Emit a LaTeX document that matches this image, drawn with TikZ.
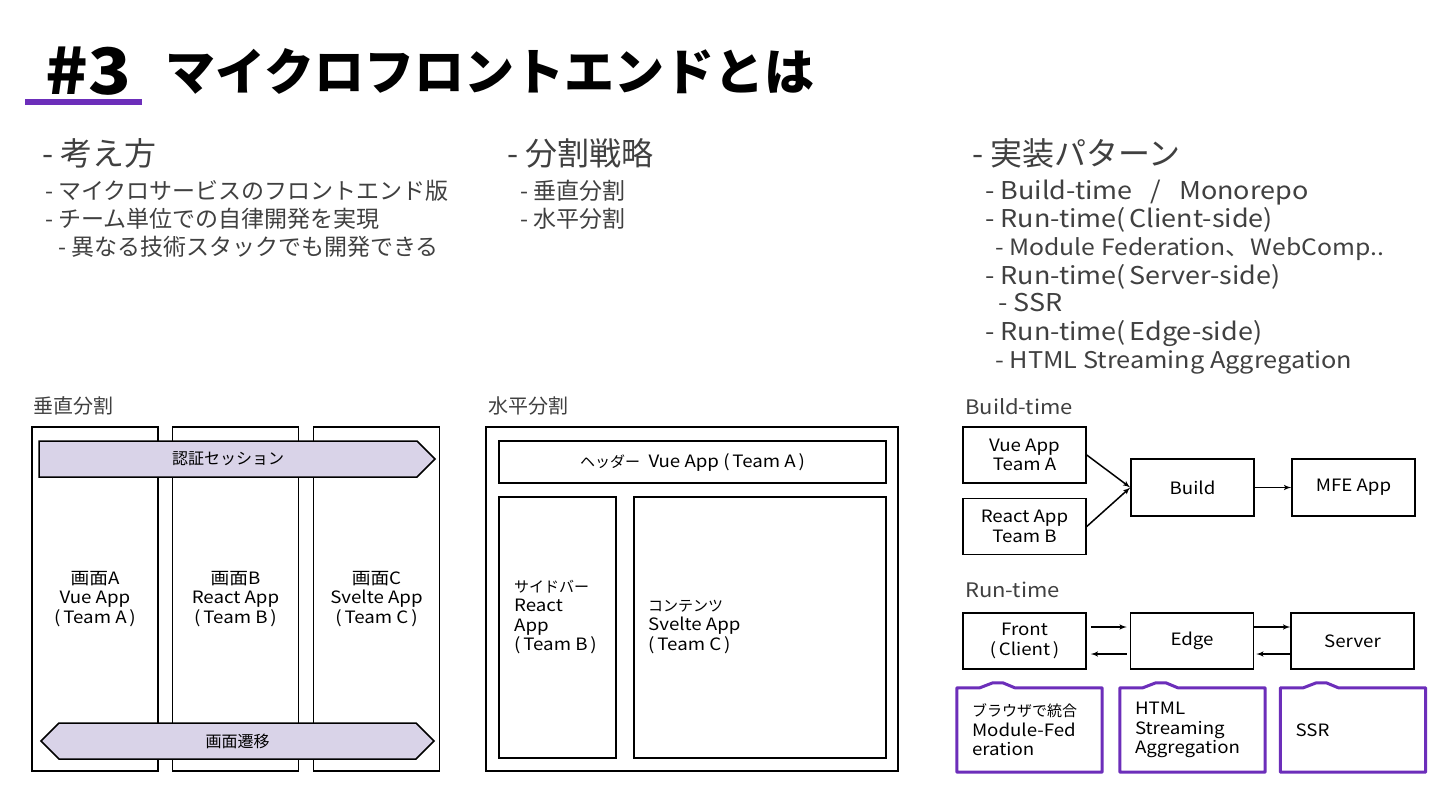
\documentclass[tikz,border=0pt]{standalone}
\usepackage{fontspec}
\setmainfont[FakeStretch=1.1]{Noto Sans CJK JP}
\newfontfamily\jpfont{Noto Sans CJK JP}
\newcommand{\kana}[1]{{\jpfont\fontsize{15}{19.5}\selectfont #1}}
\usetikzlibrary{shapes,arrows,positioning}
\definecolor{textgray}{RGB}{64,64,64}
\definecolor{mfepurple}{RGB}{108,46,186}
\definecolor{lavender}{RGB}{217,211,232}
\tikzstyle{heading} = [anchor=base west, inner sep=0pt, text=textgray,
	font=\jpfont\fontsize{32}{36}\selectfont]
\tikzstyle{item} = [anchor=base west, inner sep=0pt, text=textgray,
	font=\jpfont\fontsize{23}{27}\selectfont]
\tikzstyle{pattern} = [anchor=base west, inner sep=0pt, text=textgray,
	font=\fontsize{24.5}{28}\selectfont]
\tikzstyle{caption} = [anchor=base west, inner sep=0pt, text=textgray,
	font=\fontsize{20}{24}\selectfont]
\tikzstyle{column} = [rectangle, draw, line width=1.5pt, minimum width=126pt,
	minimum height=344pt, align=center, font=\fontsize{17}{19.5}\selectfont]
\tikzstyle{band} = [signal, draw, fill=lavender, line width=1.5pt, minimum height=36pt,
	signal pointer angle=90, inner sep=0pt, font=\jpfont\fontsize{16}{19}\selectfont]
\tikzstyle{frame} = [rectangle, draw, line width=1.5pt, align=center,
	font=\fontsize{17}{19.5}\selectfont]
\tikzstyle{label} = [anchor=west, inner sep=0pt, align=left,
	font=\fontsize{17}{19.5}\selectfont]
\tikzstyle{box} = [rectangle, draw, line width=1.5pt, minimum width=123pt,
	minimum height=56pt, align=center, font=\fontsize{17}{19.5}\selectfont]
\tikzstyle{note} = [rectangle, minimum height=84pt, text width=115pt, inner xsep=15pt,
	inner ysep=0pt, align=left, font=\fontsize{17}{19.5}\selectfont]
\tikzstyle{noteframe} = [draw=mfepurple, line width=3pt, line join=round]
\tikzstyle{line} = [draw, line width=1.5pt, -latex']

\begin{document}
\begin{tikzpicture}[x=1pt, y=-1pt]
	\fill[white] (0,0) rectangle (1440,810);
	\useasboundingbox (0,0) rectangle (1440,810);
	% Title
	\node [anchor=base west, inner sep=0pt, font=\fontsize{64}{70}\selectfont\bfseries] (num) at (45,95) {\#3};
	\node [anchor=base west, inner sep=0pt, font=\jpfont\fontsize{50}{60}\selectfont\bfseries] (title) at (165,91) {マイクロフロントエンドとは};
	\fill [mfepurple] (25,99) rectangle (142,105);
	% Text columns
	\node [heading] (idea) at (42,166) {- 考え方};
	\node [item] (idea1) at (45,200) {- マイクロサービスのフロントエンド版};
	\node [item] (idea2) at (45,228) {- チーム単位での自律開発を実現};
	\node [item] (idea3) at (58,256) {- 異なる技術スタックでも開発できる};
	\node [heading] (split) at (507,166) {- 分割戦略};
	\node [item] (split1) at (520,200) {- 垂直分割};
	\node [item] (split2) at (520,228) {- 水平分割};
	\node [heading] (impl) at (972,166) {- 実装パターン};
	\node [pattern] (impl1) at (985,200) {- Build-time ~~/~~ Monorepo};
	\node [pattern] (impl2) at (985,228) {- Run-time(\,Client-side)};
	\node [pattern, font=\fontsize{22.5}{26}\selectfont] (impl3) at (995,256) {- Module Federation、WebComp..};
	\node [pattern] (impl4) at (985,284) {- Run-time(\,Server-side)};
	\node [pattern] (impl5) at (998,312) {- SSR};
	\node [pattern] (impl6) at (985,340) {- Run-time(\,Edge-side)};
	\node [pattern, font=\fontsize{23}{26}\selectfont] (impl7) at (995,368) {- HTML Streaming Aggregation};
	% Vertical split
	\node [caption, font=\jpfont\fontsize{20}{24}\selectfont] (vcap) at (33,413) {垂直分割};
	\node [column] (scrA) at (95,599) {画面A\\Vue App\\(\,Team A\,)};
	\node [column] (scrB) at (235.5,599) {画面B\\React App\\(\,Team B\,)};
	\node [column] (scrC) at (376.5,599) {画面C\\Svelte App\\(\,Team C\,)};
	\node [band, signal to=east, minimum width=396pt] (session) at (228,459) {認証セッション};
	\node [band, signal to=west and east, minimum width=393pt] (transit) at (237.5,741) {画面遷移};
	% Horizontal split
	\node [caption, font=\jpfont\fontsize{20}{24}\selectfont] (hcap) at (488,413) {水平分割};
	\node [frame, minimum width=412pt, minimum height=344pt] (page) at (692,599) {};
	\node [frame, minimum width=387pt, minimum height=42pt] (header) at (692.5,462) {\kana{ヘッダー}\ \ Vue App (\,Team A\,)};
	\node [frame, minimum width=117pt, minimum height=261pt] (sidebar) at (557.5,627.5) {};
	\node [frame, minimum width=252pt, minimum height=261pt] (content) at (760,627.5) {};
	\node [label] (sidetext) at (514,617) {\kana{サイドバー}\\React\\App\\(\,Team B\,)};
	\node [label] (maintext) at (648,627) {\kana{コンテンツ}\\Svelte App\\(\,Team C\,)};
	% Build-time
	\node [caption] (bcap) at (965,414) {Build-time};
	\node [box] (vue) at (1024.5,455) {Vue App\\Team A};
	\node [box, below=14pt of vue] (react) {React App\\Team B};
	\node [box, minimum height=57pt] (build) at (1192.5,487.5) {Build};
	\node [box, minimum height=57pt] (mfe) at (1353.5,487.5) {MFE App};
	% Run-time
	\node [caption] (rcap) at (965,597) {Run-time};
	\node [box] (front) at (1024.5,641) {Front\\(\,Client\,)};
	\node [box, right=43pt of front] (edge) {Edge};
	\node [box, right=36pt of edge] (server) {Server};
	\node [note] (fed) at (1029.5,730) {\kana{ブラウザで統合}\\Module-Fed\\eration};
	\node [note] (stream) at (1192.5,730) {HTML\\Streaming\\Aggregation};
	\node [note] (ssr) at (1353,730) {SSR};
	\draw [noteframe] (fed.south west) -- (fed.north west) -- ([xshift=23pt]fed.north west) -- ([xshift=36pt,yshift=5pt]fed.north west) -- ([xshift=46pt,yshift=5pt]fed.north west) -- ([xshift=58pt]fed.north west) -- (fed.north east) -- (fed.south east) -- cycle;
	\draw [noteframe] (stream.south west) -- (stream.north west) -- ([xshift=23pt]stream.north west) -- ([xshift=36pt,yshift=5pt]stream.north west) -- ([xshift=46pt,yshift=5pt]stream.north west) -- ([xshift=58pt]stream.north west) -- (stream.north east) -- (stream.south east) -- cycle;
	\draw [noteframe] (ssr.south west) -- (ssr.north west) -- ([xshift=23pt]ssr.north west) -- ([xshift=36pt,yshift=5pt]ssr.north west) -- ([xshift=46pt,yshift=5pt]ssr.north west) -- ([xshift=58pt]ssr.north west) -- (ssr.north east) -- (ssr.south east) -- cycle;
	% Draw edges
	\path [line] (vue.east) -- (build.west);
	\path [line] (react.east) -- (build.west);
	\path [line] (build.east) -- (mfe.west);
	\path [line, shorten <=4pt, shorten >=3pt] ([yshift=14pt]front.east) -- ([yshift=14pt]edge.west);
	\path [line, shorten <=3pt, shorten >=4pt] ([yshift=-13pt]edge.west) -- ([yshift=-13pt]front.east);
	\path [line] ([yshift=14pt]edge.east) -- ([yshift=14pt]server.west);
	\path [line, shorten >=2pt] ([yshift=-13pt]server.west) -- ([yshift=-13pt]edge.east);
\end{tikzpicture}
\end{document}
